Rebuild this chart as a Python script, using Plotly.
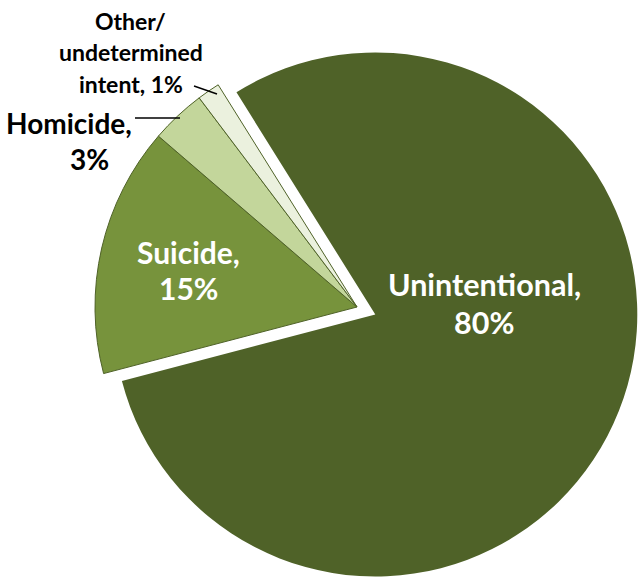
import plotly.graph_objects as go

W, H = 638, 579

# ---- data ----
categories = ["Unintentional", "Suicide", "Homicide", "Other/undetermined intent"]
values = [79.8, 15.4, 3.4, 1.4]
pct_labels = ["80%", "15%", "3%", "1%"]
colors = ["#4F6228", "#77933C", "#C3D69B", "#EBF1DE"]
label_lines = [
    ["Unintentional,", "80%"],
    ["Suicide,", "15%"],
    ["Homicide,", "3%"],
    ["Other/", "undetermined", "intent, 1%"],
]

# ---- layout constants (pixels) ----
R = 262
CX, CY = 357, 307          # centre of un-pulled slices
PX, PY = 18.3, 7.5         # offset of the exploded slice
ROT = -32

def dom(cx, cy, r):
    x0, x1 = (cx - r) / W, (cx + r) / W
    y0, y1 = 1 - (cy + r) / H, 1 - (cy - r) / H
    clamp = lambda v: min(1.0, max(0.0, v))
    return dict(x=[clamp(x0), clamp(x1)], y=[clamp(y0), clamp(y1)])

clear = "rgba(0,0,0,0)"
colA = [clear] + colors[1:]
colB = [colors[0]] + [clear] * 3
lwA = [0, 1, 1, 1]
lwB = [0, 0, 0, 0]

fig = go.Figure()
fig.add_trace(go.Pie(
    labels=categories, values=values, sort=False, direction="clockwise", rotation=ROT,
    marker=dict(colors=colA, line=dict(color="#4F6228", width=lwA)),
    textinfo="none", domain=dom(CX, CY, R), showlegend=False, hoverinfo="label+percent",
))
fig.add_trace(go.Pie(
    labels=categories, values=values, sort=False, direction="clockwise", rotation=ROT,
    marker=dict(colors=colB, line=dict(color="#4F6228", width=lwB)),
    textinfo="none", domain=dom(CX + PX, CY + PY, R), showlegend=False, hoverinfo="label+percent",
))

# label line positions (x centre, y centre in px), size, colour
line_pos = [
    [(484, 284), (484, 322)],
    [(188, 252), (188, 288)],
    [(69, 123), (89, 159)],
    [(130, 21), (131, 52), (131, 84)],
]
sizes = [30.5, 30, 28, 23]
fcolors = ["white", "white", "black", "black"]

annotations = []
for lines, pos, s, c in zip(label_lines, line_pos, sizes, fcolors):
    for t, (x, y) in zip(lines, pos):
        annotations.append(dict(
            text="<b>%s</b>" % t, x=x / W, y=1 - y / H, xref="paper", yref="paper",
            xanchor="center", yanchor="middle", showarrow=False,
            font=dict(family="Lato", size=s, color=c),
        ))

leaders = [((135, 118), (180, 118)), ((194, 86), (217, 94))]
shapes = []
for (x0, y0), (x1, y1) in leaders:
    shapes.append(dict(type="line", xref="paper", yref="paper",
                       x0=x0 / W, y0=1 - y0 / H, x1=x1 / W, y1=1 - y1 / H,
                       line=dict(color="black", width=1.5)))

fig.update_layout(
    width=W, height=H, margin=dict(l=0, r=0, t=0, b=0),
    paper_bgcolor="white", plot_bgcolor="white",
    annotations=annotations, shapes=shapes,
)
fig.write_html(
    "out.html",
    config={"displayModeBar": False},
    post_script="document.body.style.margin='0';document.body.style.overflow='hidden';",
)
